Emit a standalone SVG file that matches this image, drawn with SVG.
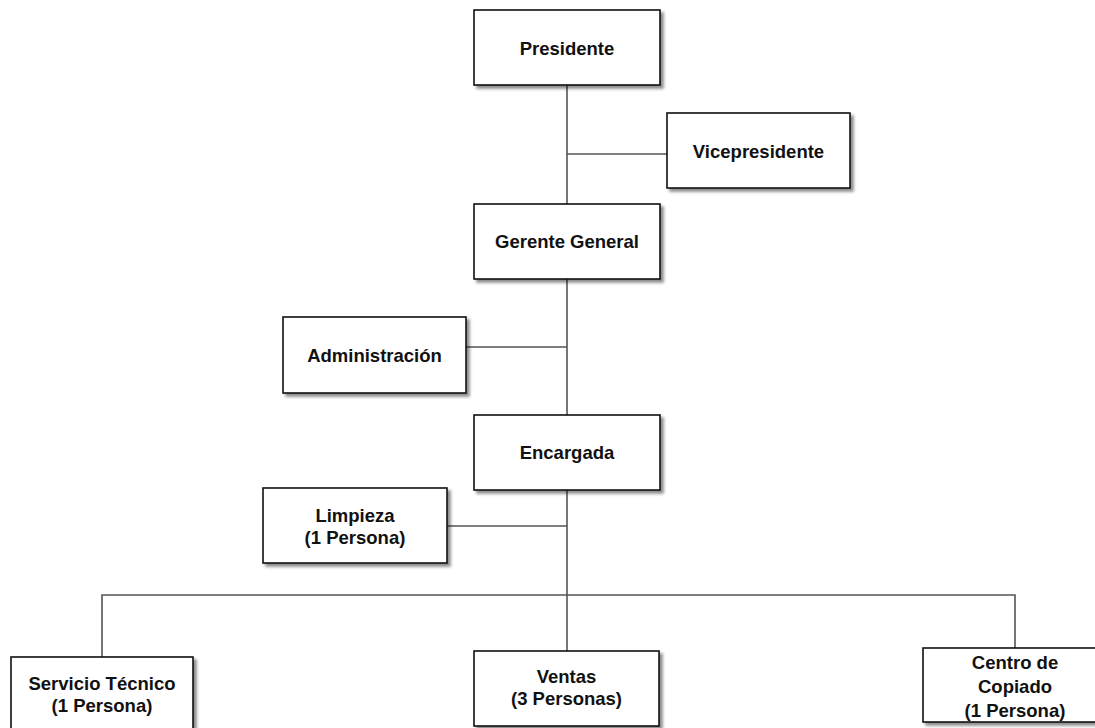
<svg xmlns="http://www.w3.org/2000/svg" width="1095" height="728" viewBox="0 0 1095 728">
<style>
.box{fill:#fff;stroke:#111;stroke-width:1.6;filter:url(#sh)}
.t{font-family:"Liberation Sans",Arial,sans-serif;font-weight:bold;font-size:18.5px;fill:#111;text-anchor:middle}
.c{fill:none;stroke:#555;stroke-width:1.6}
</style>
<defs>
<filter id="sh" x="-10%" y="-10%" width="125%" height="130%">
<feDropShadow dx="3" dy="3" stdDeviation="1.8" flood-color="#000" flood-opacity="0.45"/>
</filter>
</defs>
<rect width="1095" height="728" fill="#fff"/>
<g id="connectors">
<path class="c" d="M567 85V204M567 279V415M567 490V651M567 154H667M466 347H567M447 526H567M102 657V595H1015V648"/>
</g>
<g id="presidente"><rect class="box" x="474" y="10" width="186" height="75"/><text class="t" x="567" y="55">Presidente</text></g>
<g id="vicepresidente"><rect class="box" x="667" y="113" width="183" height="75"/><text class="t" x="758.5" y="158">Vicepresidente</text></g>
<g id="gerente"><rect class="box" x="474" y="204" width="186" height="75"/><text class="t" x="567" y="248">Gerente General</text></g>
<g id="administracion"><rect class="box" x="283" y="317" width="183" height="76"/><text class="t" x="374.5" y="362">Administración</text></g>
<g id="encargada"><rect class="box" x="474" y="415" width="186" height="75"/><text class="t" x="567" y="459">Encargada</text></g>
<g id="limpieza"><rect class="box" x="263" y="488" width="184" height="75"/><text class="t" x="355" y="522">Limpieza</text><text class="t" x="355" y="544">(1 Persona)</text></g>
<g id="servicio"><rect class="box" x="11" y="657" width="182" height="82"/><text class="t" x="102" y="690">Servicio Técnico</text><text class="t" x="102" y="712">(1 Persona)</text></g>
<g id="ventas"><rect class="box" x="474" y="651" width="185" height="75"/><text class="t" x="566.5" y="683">Ventas</text><text class="t" x="566.5" y="705">(3 Personas)</text></g>
<g id="centro"><rect class="box" x="923" y="648" width="184" height="74"/><text class="t" x="1015" y="669">Centro de</text><text class="t" x="1015" y="693">Copiado</text><text class="t" x="1015" y="717">(1 Persona)</text></g>
</svg>
